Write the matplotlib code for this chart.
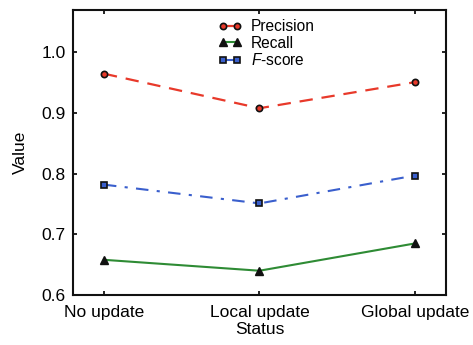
import numpy as np
import matplotlib
matplotlib.use("Agg")
import matplotlib.pyplot as plt

plt.rcParams['font.family'] = ['Liberation Sans', 'DejaVu Sans']
plt.rcParams['mathtext.fontset'] = 'custom'
plt.rcParams['mathtext.rm'] = 'Liberation Sans'
plt.rcParams['mathtext.it'] = 'Liberation Sans:italic'

# data
status = ["No update", "Local update", "Global update"]
precision = [0.965, 0.908, 0.951]
recall = [0.658, 0.640, 0.685]
fscore = [0.782, 0.751, 0.797]

x = np.arange(len(status))

fig = plt.figure(figsize=(4.73, 3.45), dpi=100)
ax = fig.add_axes([0.154, 0.145, 0.789, 0.826])

ax.plot(x, precision, color='#e8392a', linestyle=(0, (6, 4)), linewidth=1.6,
        marker='o', markersize=4.5, markerfacecolor='#e8392a',
        markeredgecolor='#111111', markeredgewidth=1.2, label='Precision')
ax.plot(x, recall, color='#2e8b34', linestyle='-', linewidth=1.5,
        marker='^', markersize=5.5, markerfacecolor='#111111',
        markeredgecolor='#111111', label='Recall')
ax.plot(x, fscore, color='#3a5fcd', linestyle=(0, (6, 4, 1.5, 4)), linewidth=1.5,
        marker='s', markersize=4.5, markerfacecolor='#3a5fcd',
        markeredgecolor='#111111', markeredgewidth=1.2, label='$F$-score')

ax.set_xlim(-0.2, 2.2)
ax.set_ylim(0.6, 1.07)
ax.set_xticks(x)
ax.set_xticklabels(status)
ax.set_yticks([0.6, 0.7, 0.8, 0.9, 1.0])
ax.set_yticklabels(['0.6', '0.7', '0.8', '0.9', '1.0'])
ax.tick_params(direction='in', length=3, width=1.2, top=True, right=True,
               labelsize=12.5)
ax.tick_params(axis='x', pad=7)
ax.tick_params(axis='y', pad=5)
for s in ax.spines.values():
    s.set_linewidth(1.5)
    s.set_color('#111111')

ax.set_xlabel('Status', fontsize=12.5, labelpad=2)
ax.set_ylabel('Value', fontsize=12.5, labelpad=10)

ax.legend(loc='upper center', bbox_to_anchor=(0.52, 1.0), frameon=False,
          fontsize=11.2, handlelength=1.5, handletextpad=0.6, numpoints=2,
          labelspacing=0.1, borderaxespad=0.2)

fig.savefig('out.png', dpi=100)
